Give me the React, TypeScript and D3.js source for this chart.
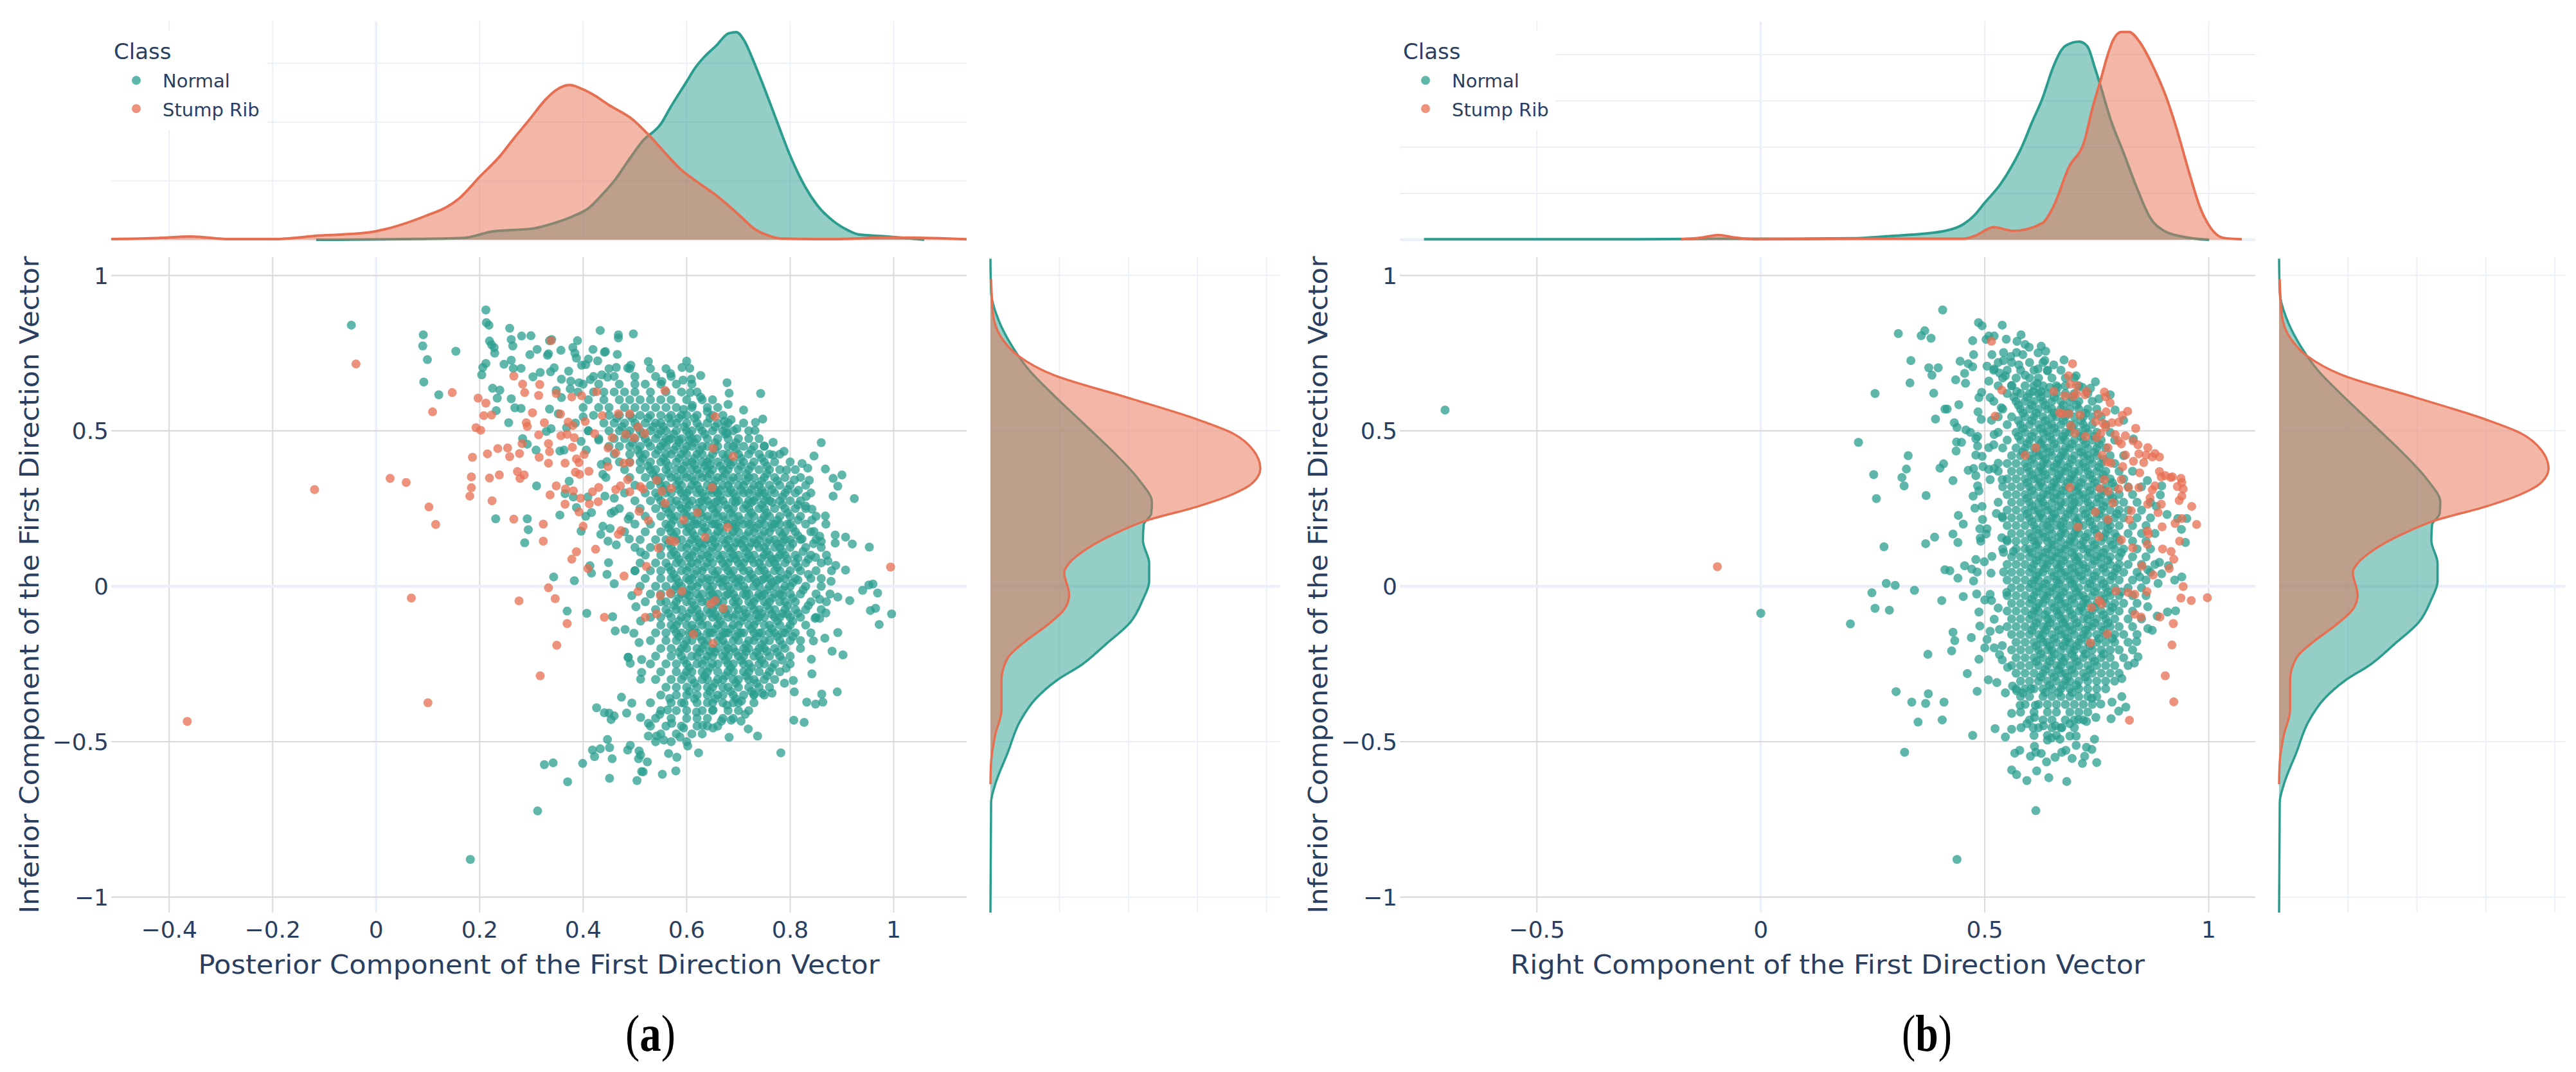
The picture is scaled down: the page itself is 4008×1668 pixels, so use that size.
import React from "react";
import * as d3 from "d3";

const GREEN = "#2A9D8F";
const ORANGE = "#E76F51";
const INK = "#2A3F5F";
const LIGHT = "#EBF0F8";
const GRID = "#DADADC";

const classes = ["Normal", "Stump Rib"];
const yTicks = [-1, -0.5, 0, 0.5, 1];
const xTicksA = [-0.4, -0.2, 0, 0.2, 0.4, 0.6, 0.8, 1];
const xTicksB = [-0.5, 0, 0.5, 1];
const densityTicksA = [1, 2, 3];
const densityTicksB = [1, 2, 3, 4];
const sideTicks = [1, 2, 3, 4];

type P = [number, number];

// density: [x, density]
const topNormalA: P[] = [[-.116,0],[.05,.01],[.169,.03],[.224,.14],[.303,.19],[.343,.28],[.383,.41],[.411,.54],[.436,.76],[.46,1],[.49,1.38],[.514,1.67],[.551,1.98],[.568,2.24],[.6,2.69],[.617,2.93],[.632,3.09],[.657,3.3],[.681,3.51],[.696,3.53],[.711,3.39],[.73,3.02],[.75,2.58],[.775,2],[.799,1.45],[.829,.9],[.853,.58],[.883,.32],[.912,.16],[.932,.09],[.98,.06],[1.059,0]];
const topStumpA: P[] = [[-.512,.01],[-.42,.03],[-.358,.055],[-.283,.01],[-.2,.01],[-.11,.07],[-.013,.125],[.018,.18],[.097,.41],[.137,.56],[.16,.7],[.2,1.07],[.24,1.43],[.264,1.7],[.295,2.03],[.327,2.38],[.347,2.54],[.373,2.63],[.399,2.56],[.421,2.46],[.45,2.29],[.495,2.05],[.529,1.76],[.559,1.47],[.588,1.2],[.613,1.03],[.662,.72],[.686,.54],[.711,.34],[.73,.19],[.755,.08],[.784,.02],[.883,.01],[.98,.035],[1.03,.035],[1.141,.007]];
const topNormalB: P[] = [[-.752,.01],[-.3,.01],[-.1,.02],[.05,.02],[.2,.03],[.289,.08],[.406,.18],[.453,.34],[.477,.53],[.5,.8],[.535,1.2],[.565,1.67],[.582,1.99],[.606,2.55],[.629,3.06],[.652,3.71],[.67,4.08],[.682,4.2],[.711,4.28],[.729,4.18],[.746,3.71],[.758,3.34],[.781,2.6],[.811,1.85],[.84,1.11],[.869,.48],[.899,.2],[.94,.07],[1.001,0]];
const topStumpB: P[] = [[-.178,.01],[-.13,.05],[-.095,.1],[-.06,.05],[-.016,.01],[.2,.02],[.453,.02],[.477,.08],[.52,.27],[.564,.19],[.629,.36],[.652,.69],[.688,1.57],[.723,2.15],[.74,2.83],[.758,3.43],[.776,4.04],[.787,4.32],[.805,4.49],[.822,4.49],[.846,4.27],[.875,3.76],[.904,3.11],[.928,2.41],[.957,1.43],[.981,.69],[1,.32],[1.033,.04],[1.074,.01]];

// density: [y, density], same y values in both panels
const sideNormal: P[] = [[1.054,0],[.945,.01],[.85,.13],[.763,.34],[.698,.55],[.618,.9],[.517,1.38],[.43,1.79],[.343,2.15],[.27,2.34],[.234,2.33],[.197,2.22],[.147,2.21],[.074,2.3],[.016,2.3],[-.042,2.21],[-.115,2.03],[-.187,1.67],[-.253,1.32],[-.303,.96],[-.361,.66],[-.434,.43],[-.536,.25],[-.637,.07],[-.695,.01],[-1.05,0]];
const sideStump: P[] = [[.988,.01],[.872,.04],[.79,.19],[.742,.4],[.681,.9],[.608,1.97],[.538,2.98],[.492,3.51],[.437,3.81],[.379,3.91],[.335,3.81],[.296,3.51],[.255,2.98],[.212,2.27],[.168,1.79],[.118,1.38],[.074,1.14],[.045,1.07],[-.028,1.14],[-.071,1.08],[-.122,.84],[-.18,.49],[-.231,.25],[-.303,.16],[-.398,.16],[-.478,.07],[-.565,.01],[-.637,0]];

// scattered points, read one by one: [x, y]
const normalA: P[] = [[-.048,.84],[.212,.889],[.213,.848],[.218,.84],[.091,.809],[.09,.773],[.099,.729],[.154,.756],[.092,.657],[.121,.616],[.258,.83],[.261,.794],[.264,.773],[.281,.805],[.299,.806],[.219,.789],[.223,.777],[.228,.768],[.229,.75],[.212,.717],[.206,.704],[.204,.68],[.261,.727],[.247,.714],[.265,.701],[.28,.701],[.339,.794],[.335,.79],[.389,.79],[.38,.768],[.357,.759],[.311,.762],[.297,.745],[.331,.743],[.333,.748],[.384,.75],[.387,.734],[.419,.762],[.441,.753],[.443,.755],[.466,.746],[.433,.823],[.468,.799],[.468,.809],[.497,.812],[.41,.731],[.428,.725],[.405,.713],[.397,.711],[.372,.692],[.344,.703],[.337,.69],[.317,.688],[.303,.674],[.358,.666],[.376,.66],[.392,.655],[.414,.665],[.436,.68],[.447,.673],[.464,.704],[.486,.702],[.492,.711],[.225,.637],[.239,.631],[.234,.605],[.261,.603],[.268,.574],[.28,.572],[.232,.565],[.256,.526],[.335,.57],[.348,.63],[.375,.635],[.358,.607],[.526,.723],[.6,.724],[.569,.684],[.627,.678],[.591,.704],[.606,.701],[.593,.663],[.609,.666],[.552,.659],[.678,.655],[.682,.621],[.743,.62],[.607,.623],[.627,.608],[.68,.585],[.71,.567],[.594,.569],[.611,.582],[.64,.562],[.747,.538],[.733,.527],[.686,.536],[.673,.531],[.697,.507],[.678,.492],[.732,.501],[.767,.463],[.75,.451],[.86,.462],[.788,.434],[.767,.422],[.846,.419],[.823,.395],[.834,.38],[.868,.377],[.9,.358],[.883,.347],[.892,.322],[.837,.341],[.793,.374],[.808,.342],[.816,.309],[.831,.289],[.883,.29],[.924,.282],[.83,.258],[.842,.248],[.868,.226],[.842,.213],[.869,.2],[.846,.176],[.857,.161],[.823,.152],[.86,.144],[.887,.165],[.887,.139],[.907,.158],[.92,.136],[.953,.126],[.888,.067],[.907,.052],[.873,.081],[.849,.093],[.879,.016],[.877,-.025],[.892,-.035],[.915,-.046],[.94,-.013],[.96,.007],[.952,.004],[.969,-.022],[.955,-.078],[.965,-.071],[.996,-.089],[.972,-.123],[.857,-.042],[.869,-.086],[.857,-.103],[.848,-.103],[.892,-.149],[.867,-.167],[.845,-.176],[.881,-.209],[.902,-.221],[.841,-.235],[.842,-.282],[.792,-.264],[.806,-.303],[.789,-.312],[.808,-.34],[.765,-.344],[.891,-.34],[.861,-.347],[.863,-.373],[.849,-.379],[.832,-.373],[.807,-.431],[.827,-.438],[.737,-.482],[.719,-.459],[.782,-.536],[.682,-.486],[.667,-.434],[.686,-.431],[.713,-.412],[.705,-.434],[.602,-.514],[.623,-.536],[.581,-.55],[.565,-.538],[.579,-.594],[.553,-.605],[.524,-.565],[.516,-.597],[.556,-.495],[.587,-.485],[.526,-.482],[.542,-.482],[.651,-.456],[.631,-.448],[.571,-.441],[.594,-.456],[.548,-.412],[.526,-.441],[.567,-.361],[.563,-.398],[.595,-.376],[.619,-.405],[.651,-.398],[.678,-.383],[.706,-.369],[.73,-.347],[.746,-.344],[.182,-.879],[.312,-.723],[.37,-.629],[.325,-.574],[.342,-.568],[.399,-.57],[.451,-.618],[.504,-.625],[.456,-.555],[.422,-.548],[.418,-.527],[.433,-.523],[.451,-.519],[.447,-.493],[.486,-.527],[.491,-.512],[.508,-.53],[.513,-.596],[.507,-.555],[.511,-.543],[.426,-.391],[.441,-.407],[.45,-.408],[.454,-.429],[.46,-.417],[.474,-.357],[.494,-.376],[.484,-.408],[.511,-.422],[.487,-.228],[.491,-.248],[.513,-.236],[.513,-.277],[.511,-.299],[.343,.03],[.383,.018],[.413,.066],[.416,.042],[.446,.038],[.449,.076],[.46,.008],[.5,.05],[.369,-.08],[.407,-.087],[.457,-.098],[.462,-.144],[.481,-.139],[.498,-.151],[.494,-.03],[.502,-.066],[.511,-.112],[.508,-.181],[.487,-.229],[.231,.217],[.292,.217],[.294,.182],[.287,.14],[.31,.323],[.355,.229],[.373,.338],[.365,.298],[.381,.287],[.387,.253],[.405,.225],[.416,.237],[.409,.287],[.396,.177],[.434,.167],[.438,.193],[.452,.186],[.448,.145],[.464,.133],[.454,.235],[.46,.241],[.487,.216],[.489,.152],[.511,.11],[.46,.283],[.442,.29],[.438,.36],[.444,.35],[.435,.392],[.446,.401],[.406,.438],[.396,.466],[.363,.438],[.355,.435],[.338,.507],[.329,.498],[.309,.438],[.292,.457],[.283,.475],[.385,.525],[.368,.51],[.352,.555],[.41,.5],[.43,.47],[.4,.545]];
const stumpA: P[] = [[-.039,.715],[-.119,.311],[.027,.347],[.058,.334],[.102,.255],[.115,.199],[.068,-.038],[.147,.623],[.109,.561],[.197,.605],[.212,.589],[.208,.549],[.223,.551],[.193,.51],[.202,.502],[.186,.415],[.215,.426],[.235,.443],[.254,.445],[.277,.427],[.258,.417],[.184,.352],[.219,.348],[.238,.358],[.273,.369],[.286,.358],[.278,.347],[.184,.317],[.181,.29],[.224,.275],[.266,.216],[.323,.2],[.323,.145],[.333,-.005],[.346,-.04],[.276,-.047],[.369,-.12],[.349,-.19],[.317,-.288],[.1,-.375],[-.365,-.435],[.387,.111],[.378,.087],[.409,.057],[.424,.119],[.479,.033],[.441,-.1],[.506,-.017],[.266,.676],[.283,.65],[.287,.623],[.316,.649],[.314,.614],[.338,.79],[.302,.558],[.29,.526],[.292,.514],[.325,.526],[.314,.487],[.282,.459],[.333,.459],[.335,.433],[.315,.415],[.333,.396],[.365,.396],[.348,.323],[.336,.294],[.365,.264],[.366,.313],[.381,.307],[.395,.283],[.392,.239],[.412,.265],[.429,.272],[.418,.304],[.43,.318],[.4,.193],[.357,.484],[.369,.489],[.383,.478],[.38,.517],[.371,.528],[.356,.554],[.404,.53],[.437,.549],[.468,.555],[.49,.555],[.348,.62],[.378,.609],[.397,.613],[.426,.626],[.379,.447],[.402,.424],[.387,.41],[.392,.398],[.385,.367],[.393,.36],[.411,.37],[.422,.491],[.456,.478],[.482,.489],[.498,.478],[.448,.445],[.463,.429],[.478,.396],[.49,.398],[.448,.385],[.486,.343],[.463,.311],[.472,.323],[.49,.304],[.508,.241],[.473,.179],[.468,.167],[.506,.512],[.51,.321],[.558,.63],[.655,.546],[.519,.492],[.651,.444],[.69,.418],[.542,.341],[.552,.306],[.57,.315],[.516,.313],[.649,.318],[.558,.267],[.621,.237],[.526,.212],[.594,.213],[.679,.19],[.636,.158],[.568,.147],[.577,.144],[.545,.123],[.522,.064],[.994,.062],[.591,-.016],[.549,-.03],[.568,-.022],[.655,-.046],[.646,-.057],[.671,-.071],[.542,-.089],[.52,-.1],[.613,-.154],[.651,-.184]];
const normalB: P[] = [[-.705,.567],[0,-.087],[.406,.889],[.307,.813],[.358,.806],[.366,.822],[.38,.798],[.335,.726],[.375,.703],[.396,.703],[.382,.679],[.333,.654],[.255,.62],[.386,.621],[.435,.664],[.445,.724],[.463,.716],[.455,.685],[.457,.653],[.473,.706],[.473,.79],[.475,.745],[.486,.848],[.494,.838],[.539,.84],[.509,.805],[.521,.805],[.503,.794],[.548,.795],[.581,.809],[.572,.788],[.59,.778],[.599,.769],[.516,.745],[.542,.752],[.542,.726],[.558,.739],[.571,.752],[.585,.745],[.626,.772],[.636,.756],[.619,.751],[.634,.726],[.654,.712],[.677,.728],[.576,.712],[.505,.708],[.521,.699],[.533,.686],[.546,.677],[.59,.679],[.619,.699],[.64,.693],[.509,.66],[.56,.646],[.571,.627],[.747,.658],[.736,.637],[.704,.677],[.718,.64],[.755,.603],[.78,.616],[.617,.653],[.626,.627],[.608,.627],[.645,.64],[.663,.64],[.416,.57],[.411,.57],[.442,.584],[.39,.538],[.432,.526],[.438,.511],[.458,.503],[.468,.495],[.485,.561],[.493,.624],[.487,.607],[.512,.607],[.492,.537],[.515,.534],[.537,.574],[.484,.482],[.48,.475],[.437,.464],[.448,.463],[.436,.435],[.484,.451],[.48,.422],[.494,.418],[.509,.446],[.521,.488],[.52,.455],[.218,.463],[.329,.42],[.325,.377],[.252,.359],[.315,.35],[.32,.323],[.258,.282],[.369,.292],[.429,.34],[.4,.38],[.408,.394],[.463,.373],[.475,.379],[.48,.356],[.484,.323],[.487,.307],[.474,.29],[.496,.385],[.509,.376],[.521,.379],[.512,.343],[.539,.343],[.53,.396],[.441,.228],[.452,.2],[.478,.251],[.494,.257],[.495,.215],[.526,.234],[.539,.224],[.429,.168],[.388,.158],[.368,.137],[.44,.141],[.275,.127],[.489,.185],[.505,.185],[.503,.168],[.49,.155],[.491,.145],[.538,.156],[.549,.149],[.516,.096],[.542,.109],[.564,.112],[.48,.086],[.499,.079],[.455,.066],[.411,.053],[.422,.05],[.471,.055],[.483,.046],[.44,.026],[.514,.042],[.542,.046],[.475,.017],[.28,.009],[.3,.003],[.343,-.013],[.248,-.021],[.255,-.071],[.287,-.077],[.2,-.121],[.404,-.046],[.452,-.033],[.482,-.025],[.512,-.026],[.5,-.044],[.515,-.046],[.549,-.02],[.53,-.07],[.487,-.083],[.521,-.106],[.489,-.128],[.512,-.145],[.533,-.139],[.429,-.148],[.433,-.175],[.47,-.165],[.426,-.208],[.373,-.219],[.505,-.171],[.5,-.198],[.521,-.198],[.539,-.191],[.487,-.235],[.533,-.22],[.539,-.237],[.551,-.261],[.461,-.281],[.508,-.301],[.527,-.31],[.483,-.338],[.546,-.343],[.562,-.321],[.571,-.336],[.585,-.343],[.603,-.33],[.302,-.339],[.374,-.346],[.337,-.373],[.368,-.377],[.409,-.373],[.351,-.437],[.405,-.43],[.473,-.48],[.321,-.534],[.523,-.458],[.546,-.485],[.56,-.46],[.581,-.455],[.608,-.455],[.56,-.409],[.579,-.383],[.613,-.383],[.594,-.442],[.611,-.422],[.631,-.449],[.658,-.449],[.672,-.455],[.69,-.442],[.709,-.429],[.64,-.495],[.649,-.488],[.668,-.492],[.69,-.482],[.704,-.482],[.745,-.492],[.611,-.515],[.567,-.537],[.578,-.528],[.602,-.547],[.614,-.534],[.626,-.538],[.638,-.565],[.657,-.55],[.672,-.534],[.681,-.528],[.704,-.512],[.695,-.554],[.723,-.547],[.718,-.57],[.727,-.518],[.739,-.525],[.75,-.567],[.56,-.591],[.571,-.606],[.594,-.625],[.616,-.594],[.643,-.616],[.683,-.628],[.614,-.722],[.438,-.879],[.784,-.373],[.806,-.355],[.815,-.389],[.799,-.402],[.782,-.426],[.748,-.422],[.727,-.435],[.759,-.379],[.739,-.36],[.806,-.297],[.834,-.247],[.842,-.227],[.839,-.178],[.874,-.142],[.864,-.136],[.885,-.096],[.908,-.083],[.926,-.079],[.864,-.066],[.924,.02],[.887,.009],[.895,.04],[.94,.03],[.91,.066],[.89,.077],[.864,.053],[.846,.03],[.948,.141],[.939,.183],[.907,.231],[.951,.218],[.931,.218],[.863,.34],[.895,.323],[.883,.257],[.892,.294],[.832,.474],[.81,.534],[.791,.567]];
const stumpB: P[] = [[-.097,.063],[.515,.788],[.538,.631],[.523,.547],[.614,.446],[.59,.421],[.696,.716],[.687,.677],[.691,.65],[.705,.646],[.654,.627],[.679,.613],[.697,.611],[.705,.62],[.724,.616],[.727,.627],[.767,.625],[.77,.609],[.78,.59],[.667,.558],[.674,.555],[.688,.555],[.713,.551],[.692,.516],[.701,.493],[.725,.482],[.747,.53],[.753,.554],[.771,.561],[.764,.524],[.77,.512],[.759,.492],[.75,.478],[.784,.526],[.799,.528],[.807,.55],[.819,.563],[.791,.488],[.814,.484],[.798,.468],[.805,.458],[.837,.508],[.831,.468],[.842,.455],[.864,.446],[.88,.427],[.89,.416],[.86,.422],[.874,.416],[.844,.426],[.814,.422],[.775,.446],[.762,.422],[.773,.4],[.782,.396],[.808,.385],[.832,.402],[.855,.398],[.846,.365],[.89,.369],[.894,.352],[.903,.356],[.915,.35],[.919,.352],[.938,.347],[.94,.334],[.93,.321],[.943,.313],[.94,.29],[.934,.276],[.962,.257],[.973,.199],[.925,.202],[.94,.218],[.896,.191],[.935,.145],[.897,.12],[.916,.112],[.922,.087],[.912,.057],[.851,.065],[.876,.036],[.943,-.001],[.938,-.038],[.961,-.046],[.997,-.037],[.921,-.12],[.918,-.189],[.903,-.288],[.922,-.372],[.823,-.431],[.891,-.099],[.835,-.09],[.849,-.099],[.862,-.017],[.82,-.02],[.835,-.026],[.793,-.015],[.755,-.046],[.761,-.057],[.738,-.069],[.774,-.153],[.736,-.182],[.69,.318],[.757,.315],[.775,.306],[.767,.343],[.799,.313],[.805,.343],[.821,.317],[.844,.317],[.874,.31],[.88,.323],[.869,.284],[.864,.264],[.894,.264],[.887,.237],[.786,.268],[.747,.239],[.775,.215],[.827,.243],[.823,.214],[.708,.191],[.755,.16],[.805,.149],[.83,.124],[.863,.178],[.866,.168],[.863,.135]];

// the solid middle of each cloud, estimated row by row: [y, x values]
const coreA: [number, number[]][] = [
  [.70,[.45,.49,.53,.56]],[.675,[.42,.46,.50,.54,.57]],[.65,[.40,.43,.47,.50,.52,.55,.58,.61]],[.625,[.39,.42,.44,.46,.48,.50,.53,.56,.59,.62]],[.60,[.41,.44,.47,.49,.51,.53,.55,.57,.60,.63,.65]],[.575,[.40,.43,.45,.48,.50,.52,.54,.56,.58,.61,.64,.66]],[.55,[.42,.45,.47,.49,.51,.53,.55,.57,.59,.60,.62,.65,.67]],[.525,[.44,.46,.48,.50,.52,.54,.55,.57,.58,.60,.62,.64,.66,.68,.71]],[.50,[.41,.45,.47,.49,.51,.53,.55,.56,.58,.60,.61,.63,.65,.67,.69,.72]],[.475,[.43,.46,.48,.50,.52,.54,.56,.57,.59,.61,.62,.64,.66,.68,.70,.72,.74]],[.45,[.45,.47,.49,.51,.53,.55,.56,.58,.60,.61,.63,.64,.66,.68,.69,.71,.73,.75]],[.425,[.46,.49,.51,.52,.54,.56,.57,.59,.60,.62,.63,.65,.67,.68,.70,.72,.74,.76,.78]],
  [.40,[.47,.49,.51,.53,.55,.56,.58,.60,.61,.63,.64,.66,.68,.69,.71,.73,.75,.77,.80]],[.375,[.48,.51,.53,.54,.56,.58,.59,.61,.62,.64,.65,.67,.68,.70,.72,.74,.76,.78,.81]],[.35,[.49,.52,.54,.55,.57,.58,.60,.61,.63,.64,.66,.67,.69,.70,.72,.73,.75,.77,.79,.82]],[.325,[.50,.53,.55,.56,.58,.59,.61,.62,.64,.65,.67,.68,.70,.71,.73,.74,.76,.78,.80,.83]],[.30,[.48,.52,.54,.56,.57,.59,.60,.62,.63,.65,.66,.68,.69,.71,.72,.74,.75,.77,.79,.81,.84]],[.275,[.50,.53,.55,.57,.58,.60,.61,.63,.64,.66,.67,.69,.70,.72,.73,.75,.76,.78,.80,.82]],[.25,[.47,.51,.54,.56,.57,.59,.60,.62,.63,.65,.66,.68,.69,.71,.72,.74,.75,.77,.79,.81,.83]],[.225,[.49,.52,.55,.57,.58,.60,.61,.63,.64,.66,.67,.69,.70,.72,.73,.75,.76,.78,.80,.82,.85]],[.20,[.50,.53,.56,.57,.59,.60,.62,.63,.65,.66,.68,.69,.71,.72,.74,.75,.77,.78,.80,.83]],[.175,[.48,.52,.55,.57,.58,.60,.61,.63,.64,.66,.67,.69,.70,.72,.73,.75,.76,.78,.79,.81,.84]],[.15,[.51,.54,.56,.58,.59,.61,.62,.64,.65,.67,.68,.70,.71,.73,.74,.76,.77,.79,.80,.82,.85]],[.125,[.50,.53,.55,.57,.59,.60,.62,.63,.65,.66,.68,.69,.71,.72,.74,.75,.77,.78,.80,.83,.86]],[.10,[.52,.55,.57,.58,.60,.61,.63,.64,.66,.67,.69,.70,.72,.73,.75,.76,.78,.79,.81,.84,.87]],[.075,[.51,.54,.56,.58,.59,.61,.62,.64,.65,.67,.68,.70,.71,.73,.74,.76,.77,.79,.81,.83,.86]],[.05,[.50,.53,.55,.57,.59,.60,.62,.63,.65,.66,.68,.69,.71,.72,.74,.75,.77,.78,.80,.82,.85,.88]],[.025,[.52,.55,.57,.58,.60,.61,.63,.64,.66,.67,.69,.70,.72,.73,.75,.76,.78,.79,.81,.84,.86]],[0,[.51,.54,.56,.58,.59,.61,.62,.64,.65,.67,.68,.70,.71,.73,.74,.76,.77,.79,.80,.83,.86]],
  [-.025,[.53,.55,.57,.59,.60,.62,.63,.65,.66,.68,.69,.71,.72,.74,.75,.77,.78,.80,.82,.85]],[-.05,[.52,.55,.56,.58,.60,.61,.63,.64,.66,.67,.69,.70,.72,.73,.75,.76,.78,.79,.81,.84,.87]],[-.075,[.54,.56,.58,.59,.61,.62,.64,.65,.67,.68,.70,.71,.73,.74,.76,.77,.79,.81,.83,.86]],[-.10,[.53,.55,.57,.59,.60,.62,.63,.65,.66,.68,.69,.71,.72,.74,.75,.77,.78,.80,.82,.85]],[-.125,[.55,.57,.58,.60,.61,.63,.64,.66,.67,.69,.70,.72,.73,.75,.76,.78,.80,.83]],[-.15,[.54,.56,.58,.59,.61,.62,.64,.65,.67,.68,.70,.71,.73,.74,.76,.77,.79,.81,.84]],[-.175,[.53,.56,.58,.60,.61,.63,.64,.66,.67,.69,.70,.72,.73,.75,.76,.78,.80,.82]],[-.20,[.55,.57,.59,.60,.62,.63,.65,.66,.68,.69,.71,.72,.74,.75,.77,.79,.82]],[-.225,[.54,.57,.59,.61,.62,.64,.65,.67,.68,.70,.71,.73,.74,.76,.78,.80]],[-.25,[.53,.56,.58,.60,.62,.63,.65,.66,.68,.69,.71,.72,.74,.75,.77,.80]],[-.275,[.55,.58,.60,.61,.63,.64,.66,.68,.69,.71,.72,.74,.76,.78]],[-.30,[.54,.57,.59,.61,.63,.64,.66,.67,.69,.70,.72,.73,.75,.77]],[-.325,[.56,.58,.60,.62,.64,.65,.67,.68,.70,.72,.74,.76]],[-.35,[.55,.58,.60,.62,.64,.66,.67,.69,.71,.73,.75]],[-.375,[.53,.57,.59,.62,.64,.65,.67,.69,.70,.73]],[-.40,[.55,.58,.60,.63,.65,.68,.70,.72]],[-.425,[.54,.57,.60,.62,.64,.67,.69]],[-.45,[.53,.56,.59,.62,.64,.66]],[-.475,[.55,.58,.61,.63]],[-.50,[.54,.57,.60]],
];
const fillA: [number, number[]][] = [
  [.541,[.465,.495,.525,.565,.585,.615,.645]],[.513,[.475,.505,.535,.555,.595,.625,.655,.675]],[.489,[.485,.515,.545,.575,.605,.635,.675]],[.462,[.495,.525,.555,.585,.615,.655,.695]],[.438,[.505,.545,.575,.595,.625,.655,.695,.725]],[.412,[.515,.555,.585,.615,.645,.675,.705,.745]],[.387,[.525,.565,.595,.635,.665,.705,.725,.755]],[.362,[.535,.565,.595,.625,.645,.675,.715,.755]],[.339,[.545,.585,.615,.655,.685,.715,.745,.775]],[.311,[.555,.585,.625,.655,.685,.725,.765,.795]],[.288,[.545,.595,.635,.665,.695,.735,.755,.785]],[.262,[.555,.585,.605,.645,.675,.715,.745,.785,.815]],[.236,[.565,.595,.625,.655,.685,.725,.755,.795]],[.213,[.575,.615,.645,.675,.705,.745,.775,.815]],[.188,[.565,.605,.635,.665,.695,.735,.765,.805]],[.163,[.575,.615,.655,.685,.715,.745,.785,.815]],[.137,[.565,.605,.635,.675,.705,.735,.775,.805,.845]],[.112,[.575,.615,.645,.685,.715,.755,.785,.825]],[.087,[.585,.625,.665,.695,.725,.765,.795,.835]],[.062,[.565,.605,.635,.675,.705,.745,.775,.815]],[.038,[.575,.615,.655,.685,.725,.755,.795,.835]],[.012,[.585,.625,.665,.695,.735,.765,.805]],[-.012,[.575,.605,.645,.685,.715,.755,.785,.825]],[-.038,[.585,.625,.655,.695,.735,.765,.805]],[-.062,[.575,.615,.655,.695,.725,.755,.795,.835]],[-.087,[.565,.605,.645,.675,.715,.745,.785,.815]],[-.112,[.585,.625,.665,.705,.735,.775,.805]],[-.137,[.575,.615,.655,.685,.725,.765,.795]],[-.162,[.585,.625,.665,.695,.735,.775,.805]],[-.188,[.595,.635,.675,.715,.745,.785]],[-.212,[.585,.625,.655,.695,.735,.775]],[-.238,[.595,.635,.675,.705,.745,.785]],[-.262,[.605,.645,.685,.725,.765]],[-.288,[.595,.635,.675,.715,.755]],[-.312,[.615,.655,.695,.735]],[-.338,[.605,.645,.685,.725]],[-.362,[.615,.655,.695]],
  [.47,[.565,.585,.605]],[.39,[.615,.645,.685]],[.31,[.605,.645,.665,.705,.745]],[.27,[.625,.655,.695,.725,.765]],[.2,[.615,.655,.695,.725,.765,.795]],[.14,[.625,.655,.695,.725,.755,.785]],[.09,[.605,.645,.685,.715,.745,.775,.815]],[.02,[.605,.645,.675,.705,.745,.775,.815]],[-.03,[.605,.645,.675,.715,.745,.785]],[-.09,[.625,.655,.695,.735,.765,.795]],[-.15,[.605,.645,.675,.705,.745,.785]],[-.21,[.645,.675,.715,.755]],
];
const coreB: [number, number[]][] = [
  [.72,[.53,.56,.60,.63]],[.695,[.52,.55,.58,.61,.64,.67]],[.67,[.54,.57,.60,.62,.65,.68,.70]],[.645,[.53,.56,.59,.61,.63,.66,.68,.71]],[.62,[.55,.58,.60,.62,.64,.66,.68,.70,.73]],[.595,[.52,.57,.59,.61,.63,.65,.67,.69,.71,.74]],[.57,[.54,.58,.60,.62,.64,.65,.67,.69,.71,.73,.75]],[.545,[.53,.56,.59,.61,.63,.65,.66,.68,.70,.72,.74,.76]],[.52,[.55,.58,.60,.62,.64,.65,.67,.69,.70,.72,.74,.77]],[.495,[.53,.57,.59,.61,.63,.64,.66,.68,.69,.71,.73,.75,.78]],[.47,[.55,.58,.60,.62,.63,.65,.67,.68,.70,.72,.74,.76,.79]],[.445,[.54,.57,.59,.61,.63,.64,.66,.68,.69,.71,.73,.75,.77]],[.42,[.56,.58,.60,.62,.63,.65,.67,.68,.70,.72,.73,.75,.78,.81]],[.395,[.55,.57,.59,.61,.63,.64,.66,.67,.69,.71,.72,.74,.76,.79]],[.37,[.53,.56,.58,.60,.62,.63,.65,.67,.68,.70,.71,.73,.75,.77,.80,.83]],[.345,[.55,.57,.59,.61,.62,.64,.66,.67,.69,.70,.72,.74,.76,.78,.81]],[.32,[.54,.56,.58,.60,.62,.63,.65,.66,.68,.70,.71,.73,.75,.77,.79,.82,.85]],[.295,[.55,.57,.59,.61,.63,.64,.66,.67,.69,.71,.72,.74,.76,.78,.80,.83]],[.27,[.53,.56,.58,.60,.62,.63,.65,.67,.68,.70,.71,.73,.75,.77,.79,.81,.84,.87]],[.245,[.55,.57,.59,.61,.62,.64,.65,.67,.69,.70,.72,.74,.76,.78,.80,.82,.85]],[.22,[.54,.56,.58,.60,.62,.63,.65,.66,.68,.70,.71,.73,.75,.77,.79,.81,.84,.87]],[.195,[.55,.57,.59,.61,.63,.64,.66,.67,.69,.71,.72,.74,.76,.78,.80,.83,.86]],[.17,[.56,.58,.60,.62,.63,.65,.67,.68,.70,.71,.73,.75,.77,.79,.82,.85,.88]],[.145,[.55,.57,.59,.61,.62,.64,.65,.67,.69,.70,.72,.74,.76,.78,.80,.83,.86]],[.12,[.54,.57,.59,.60,.62,.64,.65,.67,.68,.70,.72,.73,.75,.77,.79,.81,.84,.87]],[.095,[.56,.58,.60,.62,.63,.65,.66,.68,.70,.71,.73,.75,.76,.78,.80,.83,.86]],[.07,[.55,.57,.59,.61,.63,.64,.66,.67,.69,.71,.72,.74,.76,.78,.80,.82,.85,.88]],[.045,[.56,.58,.60,.62,.63,.65,.67,.68,.70,.71,.73,.75,.77,.79,.81,.84,.87]],[.02,[.55,.57,.59,.61,.62,.64,.66,.67,.69,.70,.72,.74,.76,.78,.80,.83,.86]],
  [-.005,[.56,.58,.60,.62,.63,.65,.66,.68,.70,.71,.73,.75,.77,.79,.82,.85]],[-.03,[.55,.57,.59,.61,.63,.64,.66,.67,.69,.71,.72,.74,.76,.78,.80,.83,.86]],[-.055,[.56,.58,.60,.62,.63,.65,.67,.68,.70,.72,.73,.75,.77,.79,.81,.84]],[-.08,[.55,.57,.59,.61,.62,.64,.66,.67,.69,.71,.72,.74,.76,.78,.80,.83]],[-.105,[.56,.58,.60,.62,.64,.65,.67,.68,.70,.72,.73,.75,.77,.79,.82,.85]],[-.13,[.55,.57,.59,.61,.63,.64,.66,.68,.69,.71,.73,.74,.76,.78,.80,.83]],[-.155,[.56,.58,.60,.62,.63,.65,.67,.68,.70,.72,.73,.75,.77,.79,.81,.84]],[-.18,[.57,.59,.61,.63,.64,.66,.68,.69,.71,.73,.75,.77,.79,.82]],[-.205,[.56,.58,.60,.62,.64,.65,.67,.69,.70,.72,.74,.76,.78,.80,.83]],[-.23,[.57,.59,.61,.63,.65,.67,.68,.70,.72,.74,.76,.78,.81]],[-.255,[.56,.58,.60,.62,.64,.66,.67,.69,.71,.73,.75,.77,.79,.82]],[-.28,[.57,.59,.61,.63,.65,.67,.68,.70,.72,.74,.76,.78,.80]],[-.305,[.58,.60,.62,.64,.66,.68,.69,.71,.73,.75,.77,.79]],[-.33,[.57,.59,.61,.63,.65,.67,.69,.71,.73,.75,.77]],[-.355,[.58,.60,.63,.65,.67,.69,.71,.73,.75]],[-.38,[.59,.62,.64,.66,.68,.70,.72,.74]],[-.405,[.58,.61,.64,.66,.69,.71,.73]],[-.43,[.60,.63,.65,.68,.70,.72]],[-.455,[.62,.65,.67,.70]],[-.48,[.61,.64,.66]],
];
const fillB: [number, number[]][] = [
  [.608,[.565,.595,.625,.655,.695]],[.583,[.575,.605,.635,.675,.705]],[.557,[.585,.615,.655,.685,.725]],[.533,[.575,.605,.635,.675,.715]],[.508,[.585,.625,.655,.695,.725]],[.482,[.575,.605,.645,.675,.715,.745]],[.458,[.595,.625,.655,.695,.725,.755]],[.432,[.585,.615,.645,.675,.715,.745]],[.408,[.605,.635,.665,.695,.735,.765]],[.383,[.595,.625,.655,.685,.725,.755]],[.358,[.605,.635,.665,.695,.735,.765]],[.333,[.595,.625,.655,.685,.715,.745,.785]],[.308,[.605,.645,.675,.705,.735,.765]],[.283,[.595,.625,.655,.695,.725,.755,.785]],[.258,[.605,.635,.665,.695,.735,.765]],[.233,[.595,.625,.655,.685,.725,.755,.795]],[.208,[.605,.645,.675,.705,.735,.775]],[.183,[.615,.645,.675,.705,.745,.775]],[.158,[.605,.635,.665,.695,.725,.765,.795]],[.133,[.615,.655,.685,.715,.745,.785]],[.108,[.605,.635,.665,.695,.735,.765,.805]],[.083,[.615,.645,.675,.705,.745,.775]],[.058,[.605,.635,.665,.695,.725,.765,.795]],[.033,[.615,.655,.685,.715,.745,.785]],[.008,[.605,.635,.665,.695,.735,.765]],[-.018,[.615,.645,.675,.705,.745,.775,.805]],[-.042,[.605,.635,.665,.695,.725,.765]],[-.068,[.615,.655,.685,.715,.745,.785]],[-.092,[.605,.635,.665,.695,.735,.765]],[-.118,[.615,.645,.675,.705,.745,.775]],[-.142,[.605,.635,.665,.695,.725,.765]],[-.168,[.625,.655,.685,.715,.755,.785]],[-.192,[.615,.645,.675,.705,.735]],[-.218,[.625,.655,.695,.725,.765]],[-.242,[.615,.645,.675,.705,.745]],[-.268,[.635,.665,.695,.735]],[-.292,[.625,.655,.685,.725]],[-.318,[.645,.675,.705]],[-.342,[.635,.665,.695]],
];

const expandRows = (rows: [number, number[]][]): P[] =>
  rows.flatMap(([y, xs]) => xs.map((x): P => [x, y]));

const fmt = d3.format("~g");

type PanelProps = {
  left: number; right: number; xDomain: [number, number]; xTicks: number[];
  topMax: number; topTicks: number[]; sideLeft: number; sideMax: number; sideRight: number;
  normal: P[]; stump: P[]; topNormal: P[]; topStump: P[];
  xTitle: string; xTitleLength: number; yTitleX: number; legendX: number; legendEnd: number; tag: string; tagX: number;
};

function Panel(p: PanelProps) {
  const x = d3.scaleLinear().domain(p.xDomain).range([p.left, p.right]);
  const y = d3.scaleLinear().domain([-1.05, 1.059]).range([1420, 400]);
  const top = d3.scaleLinear().domain([0, p.topMax]).range([373, 33]);
  const side = d3.scaleLinear().domain([0, p.sideMax]).range([p.sideLeft, p.sideRight]);

  const topArea = d3.area<P>().x((d) => x(d[0])).y0(top(0)).y1((d) => top(d[1])).curve(d3.curveMonotoneX);
  const topLine = d3.line<P>().x((d) => x(d[0])).y((d) => top(d[1])).curve(d3.curveMonotoneX);
  const sideArea = d3.area<P>().y((d) => y(d[0])).x0(side(0)).x1((d) => side(d[1])).curve(d3.curveMonotoneY);
  const sideLine = d3.line<P>().y((d) => y(d[0])).x((d) => side(d[1])).curve(d3.curveMonotoneY);

  const midX = (p.left + p.right) / 2;

  return (
    <g fontFamily="'DejaVu Sans'" fill={INK}>
      {/* top marginal grid */}
      {p.xTicks.map((t) => (
        <line key={t} x1={x(t)} x2={x(t)} y1={33} y2={373} stroke={LIGHT} strokeWidth={t === 0 ? 3.5 : 2} />
      ))}
      {p.topTicks.map((t) => (
        <line key={t} x1={p.left} x2={p.right} y1={top(t)} y2={top(t)} stroke={LIGHT} strokeWidth={2.2} />
      ))}
      <line x1={p.left} x2={p.right} y1={top(0)} y2={top(0)} stroke={LIGHT} strokeWidth={4} />
      <rect x={p.legendX - 5} y={47} width={p.legendEnd - p.legendX + 5} height={155} fill="#fff" />

      {/* scatter grid */}
      {p.xTicks.map((t) => (
        <line key={t} x1={x(t)} x2={x(t)} y1={400} y2={1420} stroke={t === 0 ? LIGHT : GRID} strokeWidth={t === 0 ? 3.5 : 2} />
      ))}
      {yTicks.map((t) => (
        <line key={t} x1={p.left} x2={p.right} y1={y(t)} y2={y(t)} stroke={t === 0 ? LIGHT : GRID} strokeWidth={t === 0 ? 4.5 : 2.2} />
      ))}

      {/* side marginal grid */}
      {sideTicks.map((t) => (
        <line key={t} x1={side(t)} x2={side(t)} y1={400} y2={1420} stroke={LIGHT} strokeWidth={2} />
      ))}
      {yTicks.map((t) => (
        <line key={t} x1={p.sideLeft} x2={p.sideRight} y1={y(t)} y2={y(t)} stroke={LIGHT} strokeWidth={t === 0 ? 4.5 : 2} />
      ))}

      {/* points */}
      <g fill={GREEN} fillOpacity={0.75}>
        {p.normal.map((d, i) => <circle key={i} cx={x(d[0])} cy={y(d[1])} r={7} />)}
      </g>
      <g fill={ORANGE} fillOpacity={0.75}>
        {p.stump.map((d, i) => <circle key={i} cx={x(d[0])} cy={y(d[1])} r={7} />)}
      </g>

      {/* marginals */}
      <path d={topArea(p.topNormal)!} fill={GREEN} fillOpacity={0.5} />
      <path d={topLine(p.topNormal)!} fill="none" stroke={GREEN} strokeWidth={4} />
      <path d={topArea(p.topStump)!} fill={ORANGE} fillOpacity={0.5} />
      <path d={topLine(p.topStump)!} fill="none" stroke={ORANGE} strokeWidth={4} />
      <path d={sideArea(sideNormal)!} fill={GREEN} fillOpacity={0.5} />
      <path d={sideLine(sideNormal)!} fill="none" stroke={GREEN} strokeWidth={3.5} />
      <path d={sideArea(sideStump)!} fill={ORANGE} fillOpacity={0.5} />
      <path d={sideLine(sideStump)!} fill="none" stroke={ORANGE} strokeWidth={3.5} />

      {/* tick labels */}
      {p.xTicks.map((t) => (
        <text key={t} x={x(t)} y={1459} fontSize={36} textAnchor="middle">{fmt(t)}</text>
      ))}
      {yTicks.map((t) => (
        <text key={t} x={p.left - 4} y={y(t) + 13} fontSize={36} textAnchor="end">{fmt(t)}</text>
      ))}
      <text x={midX} y={1515} fontSize={40} textAnchor="middle" textLength={p.xTitleLength} lengthAdjust="spacingAndGlyphs">{p.xTitle}</text>
      <text transform={`translate(${p.yTitleX},910) rotate(-90)`} fontSize={40} textAnchor="middle" textLength={1023} lengthAdjust="spacingAndGlyphs">
        Inferior Component of the First Direction Vector
      </text>

      {/* legend */}
      <text x={p.legendX} y={92} fontSize={34}>Class</text>
      {classes.map((c, i) => (
        <g key={c}>
          <circle cx={p.legendX + 35} cy={125 + i * 44} r={7} fill={i === 0 ? GREEN : ORANGE} fillOpacity={0.75} />
          <text x={p.legendX + 76} y={136 + i * 45} fontSize={29}>{c}</text>
        </g>
      ))}

      <text x={p.tagX} y={1635} fontFamily="'Liberation Serif'" fontSize={80} fill="#000" textAnchor="middle" textLength={78} lengthAdjust="spacingAndGlyphs">
        (<tspan fontWeight="bold">{p.tag}</tspan>)
      </text>
    </g>
  );
}

export default function App() {
  return (
    <svg width={4008} height={1668} viewBox="0 0 4008 1668" style={{ position: "absolute", left: 0, top: 0, background: "#fff" }}>
      <Panel
        left={173} right={1504} xDomain={[-0.512, 1.141]} xTicks={xTicksA}
        topMax={3.716} topTicks={densityTicksA} sideLeft={1541} sideMax={4.19} sideRight={1991}
        normal={[...normalA, ...expandRows(coreA), ...expandRows(fillA)]} stump={stumpA} topNormal={topNormalA} topStump={topStumpA}
        xTitle="Posterior Component of the First Direction Vector" xTitleLength={1060} yTitleX={60} legendX={177} legendEnd={415} tag="a" tagX={1012}
      />
      <Panel
        left={2178} right={3509} xDomain={[-0.806, 1.104]} xTicks={xTicksB}
        topMax={4.722} topTicks={densityTicksB} sideLeft={3546} sideMax={4.15} sideRight={3991}
        normal={[...normalB, ...expandRows(coreB), ...expandRows(fillB)]} stump={stumpB} topNormal={topNormalB} topStump={topStumpB}
        xTitle="Right Component of the First Direction Vector" xTitleLength={987} yTitleX={2065} legendX={2183} legendEnd={2420} tag="b" tagX={2998}
      />
    </svg>
  );
}
